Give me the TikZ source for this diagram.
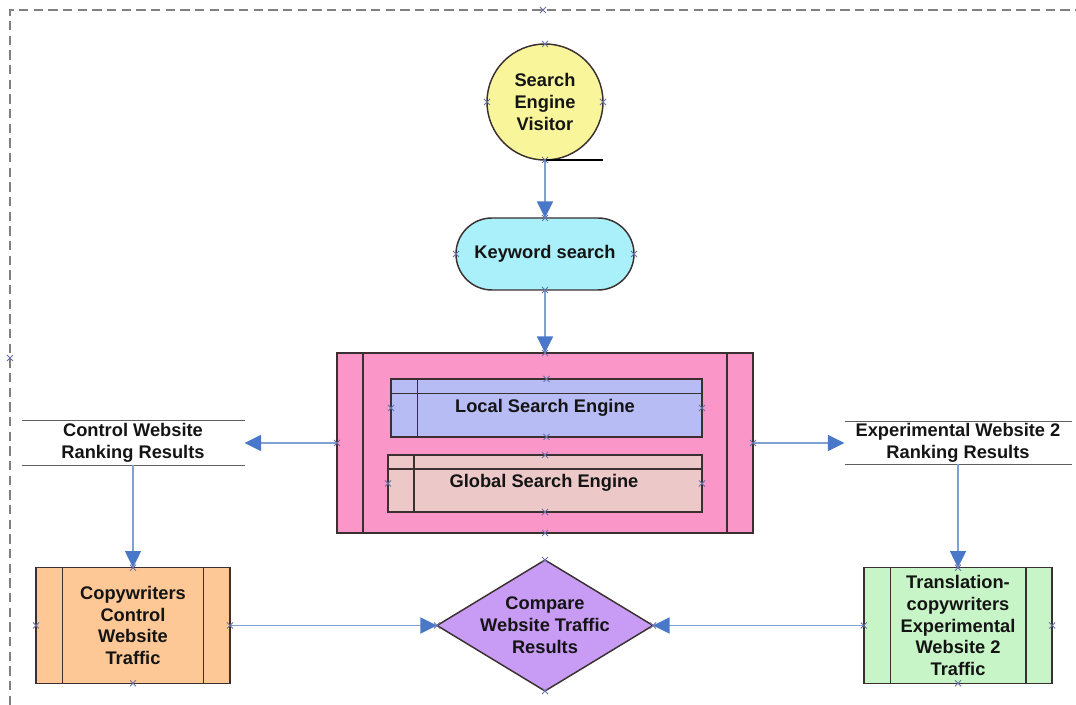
\documentclass[tikz,border=0pt]{standalone}
\usepackage{fontspec}
\setmainfont{Liberation Sans}
\usetikzlibrary{arrows.meta,shapes.geometric,calc}

\definecolor{visfill}{HTML}{F9F59B}
\definecolor{kwfill}{HTML}{AAF0FA}
\definecolor{sefill}{HTML}{FA96C8}
\definecolor{locfill}{HTML}{B8BCF5}
\definecolor{glofill}{HTML}{ECC8C8}
\definecolor{cwfill}{HTML}{FDC896}
\definecolor{cmpfill}{HTML}{C89BF5}
\definecolor{trfill}{HTML}{C8F5C8}
\definecolor{edge}{HTML}{3A3030}
\definecolor{flowline}{HTML}{7FA0D0}
\definecolor{flowhead}{HTML}{4A78C8}
\definecolor{cpcolor}{HTML}{6A70A8}
\definecolor{rule}{HTML}{606060}
\definecolor{frame}{HTML}{808080}

\tikzset{
  boxsize/.style 2 args={minimum width=#1*0.75pt, minimum height=#2*0.75pt},
  lbl/.style={font=\bfseries\fontsize{13.7}{16.3}\selectfont, align=center, text=black!92},
  shape base/.style={lbl, draw=edge, line width=1.1pt, inner sep=0pt, outer sep=0pt},
  procbox/.style={shape base, rectangle},
  resultbox/.style={lbl, rectangle, inner sep=0pt, outer sep=0pt},
  flow/.style={draw=flowline, line width=1.2pt,
    -{Triangle[length=12.5pt,width=12pt,fill=flowhead,color=flowhead]}},
  ruleline/.style={draw=rule, line width=1.3pt},
  barline/.style={draw=edge, line width=1.1pt},
  border/.style={draw=frame, line width=1.1pt, dash pattern=on 7pt off 4pt},
  cp/.pic={\draw[cpcolor, line width=0.6pt] (-3,-3) -- (3,3) (-3,3) -- (3,-3);}
}

\begin{document}
\begin{tikzpicture}[x=0.75pt,y=-0.75pt]
\useasboundingbox (0,0) rectangle (1076,705);

% outer dashed frame
\draw[border] (10,705) -- (10,10) -- (1076,10);
\coordinate (frametop) at (543,10);
\coordinate (frameleft) at (10,358);

% visitor
\node[shape base, circle, fill=visfill, minimum size=116*0.75pt] (vis) at (545,102)
  {Search\\Engine\\Visitor};
\draw[black, line width=0.8pt] (vis.south) -- ++(58,0);

% keyword search
\node[shape base, rectangle, rounded corners=27pt, fill=kwfill, boxsize={178}{72}] (kw)
  at (545,254) {Keyword search};

% search engine container
\node[procbox, fill=sefill, boxsize={416}{180}] (se) at (545,443) {};
\draw[barline] ($(se.north west)+(26,0)$) -- ($(se.south west)+(26,0)$);
\draw[barline] ($(se.north east)+(-26,0)$) -- ($(se.south east)+(-26,0)$);

\node[procbox, fill=locfill, boxsize={311}{58}] (loc) at (546.5,408) {};
\draw[barline] ($(loc.north west)+(0,14.3)$) -- ($(loc.north east)+(0,14.3)$);
\draw[barline] ($(loc.north west)+(26.6,0)$) -- ($(loc.south west)+(26.6,0)$);
\node[lbl] (loctxt) at (545,407.5) {Local Search Engine};

\node[procbox, fill=glofill, boxsize={314}{57}] (glo) at (545,483.5) {};
\draw[barline] ($(glo.north west)+(0,14)$) -- ($(glo.north east)+(0,14)$);
\draw[barline] ($(glo.north west)+(26,0)$) -- ($(glo.south west)+(26,0)$);
\node[lbl] (glotxt) at (544,483) {Global Search Engine};

% ranking results
\node[resultbox, boxsize={223}{45}] (ctrl) at (133,443) {Control Website\\Ranking Results};
\draw[ruleline] (ctrl.north west) -- (ctrl.north east);
\draw[ruleline] (ctrl.south west) -- (ctrl.south east);

\node[resultbox, boxsize={227}{43}] (exp) at (958,443) {Experimental Website 2\\Ranking Results};
\draw[ruleline] (exp.north west) -- (exp.north east);
\draw[ruleline] (exp.south west) -- (exp.south east);

% traffic boxes
\node[procbox, fill=cwfill, boxsize={194}{115.6}] (cw) at (133,625.5)
  {Copywriters\\Control\\Website\\Traffic};
\draw[barline] ($(cw.north west)+(26.7,0)$) -- ($(cw.south west)+(26.7,0)$);
\draw[barline] ($(cw.north east)+(-26.7,0)$) -- ($(cw.south east)+(-26.7,0)$);

\node[procbox, fill=trfill, boxsize={188.4}{115.6}] (tr) at (958,625.5)
  {Translation-\\copywriters\\Experimental\\Website 2\\Traffic};
\draw[barline] ($(tr.north west)+(26.7,0)$) -- ($(tr.south west)+(26.7,0)$);
\draw[barline] ($(tr.north east)+(-26,0)$) -- ($(tr.south east)+(-26,0)$);

% comparison decision
\node[shape base, diamond, fill=cmpfill, boxsize={216}{131}] (cmp) at (545,625.5) {};
\node[lbl] (cmptxt) at (545,625) {Compare\\Website Traffic\\Results};

% flow connectors
\draw[flow] (vis.south) -- (kw.north);
\draw[flow] (kw.south) -- (se.north);
\draw[flow] (se.west) -- (ctrl.east);
\draw[flow] (se.east) -- (exp.west);
\draw[flow] (ctrl.south) -- (cw.north);
\draw[flow] (exp.south) -- (tr.north);
\draw[flow] (cw.east) -- (cmp.west);
\draw[flow] (tr.west) -- (cmp.east);

% connection points
\foreach \p in {frametop, frameleft,
  vis.north, vis.south, vis.west, vis.east,
  kw.north, kw.south, kw.west, kw.east,
  se.north, se.south, se.west, se.east,
  loc.north, loc.south, loc.west, loc.east,
  glo.north, glo.south, glo.west, glo.east,
  cw.north, cw.south, cw.west, cw.east,
  tr.north, tr.south, tr.west, tr.east,
  cmp.north, cmp.south, cmp.west, cmp.east}
  \pic at (\p) {cp};
\end{tikzpicture}
\end{document}
